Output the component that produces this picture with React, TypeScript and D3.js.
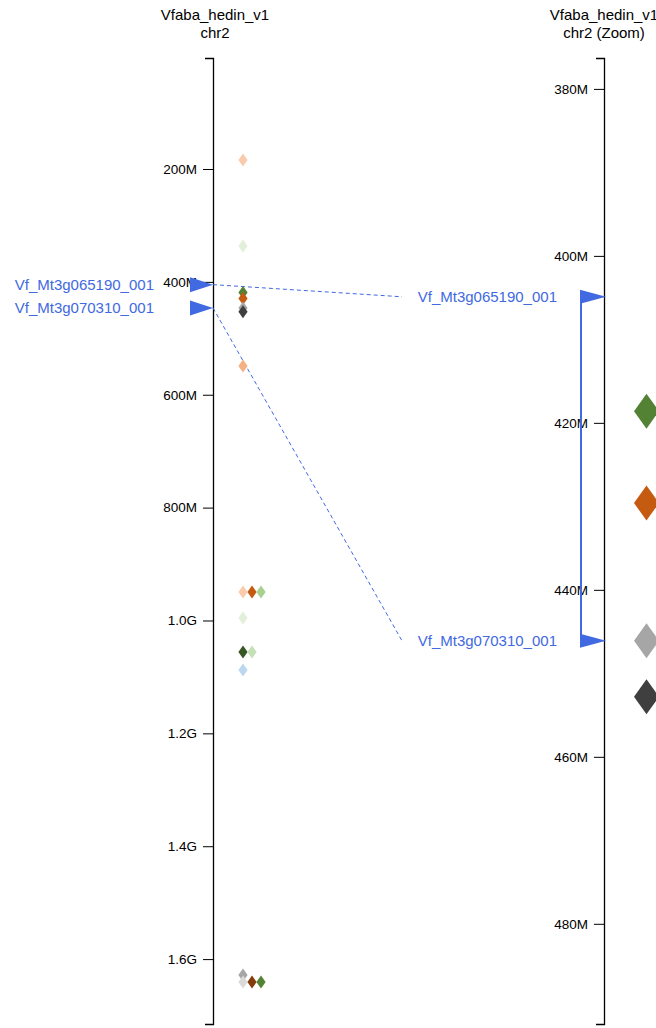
import { useEffect, useRef } from "react";
import * as d3 from "d3";

// chromosome extent (Mb) and zoom window
const chromRange = [3.3, 1715];
const zoomRange = [376.3, 492];

const chromTicks = [200, 400, 600, 800, 1000, 1200, 1400, 1600];
const zoomTicks = [380, 400, 420, 440, 460, 480];

const markerNames = ["Vf_Mt3g065190_001", "Vf_Mt3g070310_001"];
const markerPos = [404.9, 446.1];

// features (Mb) and colours
const featurePos = [
  184.1, 336.5, 418.6, 429.6, 446.1, 452.8, 549.1, 949.6, 949.6, 949.6, 995.7, 1055.9, 1055.9, 1087.8,
  1628.3, 1640.7, 1640.7, 1640.7,
];
const featureColor = [
  "#F8CBAD", "#E2F0D9", "#548235", "#C55A11", "#A6A6A6", "#3F3F3F", "#F4B183", "#F8CBAD", "#C55A11",
  "#A9D18E", "#E2F0D9", "#385723", "#C5E0B4", "#BDD7EE", "#A6A6A6", "#D9D9D9", "#843C0C", "#548235",
];

const BLUE = "#4169e1";
const FONT = "'Liberation Sans', Arial, sans-serif";

const fmt = (v: number) => (v >= 1000 ? `${(v / 1000).toFixed(1)}G` : `${v}M`);

export default function App() {
  const leftAxisRef = useRef<SVGGElement>(null);
  const rightAxisRef = useRef<SVGGElement>(null);

  const width = 656;
  const height = 1028;
  const top = 58;
  const bottom = 1024;
  const axisL = 213;
  const axisR = 604;

  const yL = d3.scaleLinear().domain(chromRange).range([top, bottom]);
  const yR = d3.scaleLinear().domain(zoomRange).range([top, bottom]);

  useEffect(() => {
    const style = (g: d3.Selection<SVGGElement, unknown, null, undefined>) => {
      g.attr("font-family", FONT).attr("font-size", 13.5);
      g.selectAll("text").attr("fill", "#000");
      g.selectAll("line").attr("stroke", "#000");
      g.select(".domain").attr("stroke", "#000").attr("stroke-width", 1.3);
    };
    if (leftAxisRef.current) {
      const g = d3.select(leftAxisRef.current);
      g.selectAll("*").remove();
      g.call(d3.axisLeft(yL).tickValues(chromTicks).tickFormat((d) => fmt(+d)).tickSizeInner(10).tickSizeOuter(8).tickPadding(6));
      style(g);
    }
    if (rightAxisRef.current) {
      const g = d3.select(rightAxisRef.current);
      g.selectAll("*").remove();
      g.call(d3.axisLeft(yR).tickValues(zoomTicks).tickFormat((d) => fmt(+d)).tickSizeInner(10).tickSizeOuter(8).tickPadding(6));
      style(g);
    }
  }, []);

  // side-by-side offset for features sharing a position
  const slot = featurePos.map((p, i) => featurePos.slice(0, i).filter((q) => q === p).length);
  const zoomIdx = featurePos.map((p, i) => i).filter((i) => featurePos[i] >= zoomRange[0] && featurePos[i] <= zoomRange[1]);

  const diamond = (cx: number, cy: number, hw: number, hh: number) =>
    `M${cx},${cy - hh}L${cx + hw},${cy}L${cx},${cy + hh}L${cx - hw},${cy}Z`;

  return (
    <svg width={width} height={height} style={{ position: "absolute", left: 0, top: 0, background: "#fff" }}>
      <g fontFamily={FONT} fontSize={15} textAnchor="middle" fill="#000">
        <text x={axisL + 2} y={20}>Vfaba_hedin_v1</text>
        <text x={axisL + 2} y={38}>chr2</text>
        <text x={axisR} y={20}>Vfaba_hedin_v1</text>
        <text x={axisR} y={38}>chr2 (Zoom)</text>
      </g>

      <g ref={leftAxisRef} transform={`translate(${axisL},0)`} />
      <g ref={rightAxisRef} transform={`translate(${axisR},0)`} />

      {/* links between overview and zoom */}
      {markerPos.map((p, i) => (
        <line
          key={`link${i}`}
          x1={axisL}
          y1={yL(p)}
          x2={axisR - 202}
          y2={yR(p)}
          stroke={BLUE}
          strokeWidth={1}
          strokeDasharray="4,3"
        />
      ))}

      {/* features on overview */}
      {featurePos.map((p, i) => (
        <path key={`f${i}`} d={diamond(axisL + 30 + slot[i] * 9, yL(p), 4.6, 6.5)} fill={featureColor[i]} />
      ))}

      {/* features on zoom */}
      {zoomIdx.map((i) => (
        <path key={`z${i}`} d={diamond(axisR + 42.5, yR(featurePos[i]), 12.5, 17.5)} fill={featureColor[i]} />
      ))}

      {/* markers on overview */}
      {markerPos.map((p, i) => (
        <g key={`ml${i}`}>
          <path d={`M${axisL - 23},${yL(p) - 7.5}L${axisL - 23},${yL(p) + 7.5}L${axisL},${yL(p)}Z`} fill={BLUE} />
          <text
            x={axisL - 59}
            y={yL(p)}
            dy="0.35em"
            textAnchor="end"
            fontFamily={FONT}
            fontSize={15}
            fill={BLUE}
          >
            {markerNames[i]}
          </text>
        </g>
      ))}

      {/* markers on zoom */}
      <line
        x1={axisR - 23}
        x2={axisR - 23}
        y1={yR(markerPos[0])}
        y2={yR(markerPos[1])}
        stroke={BLUE}
        strokeWidth={2}
      />
      {markerPos.map((p, i) => (
        <g key={`mr${i}`}>
          <path d={`M${axisR - 24},${yR(p) - 7}L${axisR - 24},${yR(p) + 7}L${axisR + 2},${yR(p)}Z`} fill={BLUE} />
          <text
            x={axisR - 47}
            y={yR(p)}
            dy="0.35em"
            textAnchor="end"
            fontFamily={FONT}
            fontSize={15}
            fill={BLUE}
          >
            {markerNames[i]}
          </text>
        </g>
      ))}
    </svg>
  );
}
